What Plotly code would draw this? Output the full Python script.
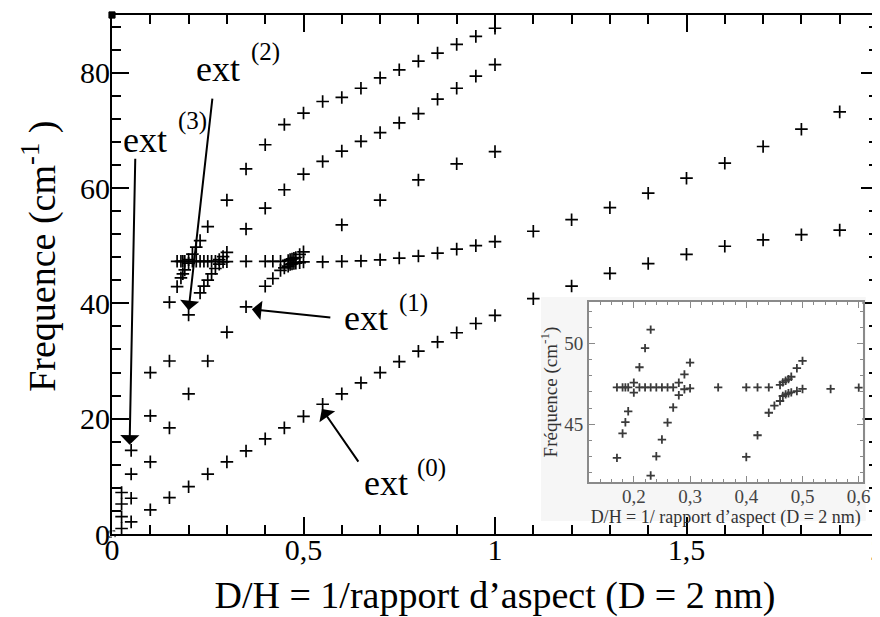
import plotly.graph_objects as go

# ---------------- data ----------------
# branch 0 : lowest mode  (ext(0))
b0_x = [0.025, 0.05, 0.1, 0.15, 0.2, 0.25, 0.3, 0.35, 0.4, 0.45, 0.5, 0.55, 0.6, 0.65,
        0.7, 0.75, 0.8, 0.85, 0.9, 0.95, 1.0, 1.1, 1.2, 1.3, 1.4, 1.5, 1.6, 1.7, 1.8, 1.9]
b0_y = [0.95, 2.1, 4.2, 6.3, 8.2, 10.4, 12.5, 14.4, 16.5, 18.4, 20.4, 22.5, 24.3, 26.2,
        28.0, 29.9, 31.7, 33.3, 34.9, 36.5, 37.9, 40.8, 43.0, 45.2, 46.9, 48.5, 49.9, 51.0, 51.9, 52.7]

# branch 1 : ext(1) mode, anticrossing near 0.45-0.5, then rising
b1_x = [0.025, 0.05, 0.1, 0.15, 0.2, 0.25, 0.3, 0.35, 0.4, 0.42, 0.44, 0.45, 0.46, 0.465,
        0.47, 0.475, 0.48, 0.49, 0.5, 0.55, 0.6, 0.65, 0.7, 0.75, 0.8, 0.85, 0.9, 0.95,
        1.0, 1.1, 1.2, 1.3, 1.4, 1.5, 1.6, 1.7, 1.8, 1.9]
b1_y = [3.0, 6.2, 12.5, 18.4, 24.3, 30.0, 35.0, 39.4, 42.96, 44.31, 45.71, 46.15, 46.44, 46.75,
        46.85, 46.92, 46.98, 47.06, 47.19, 47.19, 47.27, 47.35, 47.55, 47.85, 48.2, 48.7, 49.4, 50.0,
        50.7, 52.5, 54.5, 56.6, 59.1, 61.7, 64.3, 67.2, 70.2, 73.2]

# branch 2 : ext(2) mode
b2_x = [0.025, 0.05, 0.1, 0.15, 0.2, 0.23, 0.24, 0.25, 0.26, 0.27, 0.28, 0.29, 0.3, 0.35,
        0.4, 0.42, 0.44, 0.46, 0.465, 0.47, 0.475, 0.48, 0.49, 0.5, 0.6, 0.7, 0.8, 0.9, 1.0]
b2_y = [5.2, 10.4, 20.5, 30.0, 38.0, 41.8, 43.0, 44.04, 45.1, 46.04, 46.8, 47.17, 47.23, 47.29,
        47.29, 47.29, 47.29, 47.44, 47.6, 47.7, 47.8, 47.95, 48.48, 48.94, 53.6, 57.9, 61.4, 64.2, 66.3]

# branch 3 : ext(3) mode
b3_x = [0.025, 0.05, 0.1, 0.15, 0.17, 0.18, 0.185, 0.19, 0.2, 0.21, 0.22, 0.23, 0.24, 0.25,
        0.26, 0.27, 0.28, 0.29, 0.3, 0.35, 0.4, 0.45, 0.5, 0.55, 0.6, 0.65, 0.7, 0.75, 0.8,
        0.85, 0.9, 0.95, 1.0]
b3_y = [7.2, 14.5, 28.0, 40.2, 42.9, 44.42, 45.12, 45.8, 46.96, 47.29, 47.29, 47.29, 47.29, 47.29,
        47.29, 47.29, 47.58, 48.1, 48.83, 52.9, 56.5, 59.7, 62.4, 64.6, 66.4, 68.1, 69.6, 71.3, 72.9,
        75.4, 77.3, 79.4, 81.4]

# branch 4 : flat mode then upper branch
b4_x = [0.17, 0.18, 0.185, 0.19, 0.2, 0.21, 0.22, 0.23, 0.25, 0.3, 0.35, 0.4, 0.45, 0.5,
        0.55, 0.6, 0.65, 0.7, 0.75, 0.8, 0.85, 0.9, 0.95, 1.0]
b4_y = [47.29, 47.29, 47.29, 47.29, 47.58, 48.54, 49.73, 50.88, 53.3, 57.9, 63.3, 67.5, 71.0, 73.0,
        75.0, 75.7, 77.3, 79.1, 80.5, 82.0, 83.4, 84.9, 86.3, 87.7]

branches = [(b0_x, b0_y), (b1_x, b1_y), (b2_x, b2_y), (b3_x, b3_y), (b4_x, b4_y)]

# tick labels
main_xtick_vals = [0, 0.5, 1, 1.5, 2]
main_xtick_text = ["0", "0,5", "1", "1,5", "2"]
main_ytick_vals = [0, 20, 40, 60, 80]
main_ytick_text = ["0", "20", "40", "60", "80"]
inset_xtick_vals = [0.2, 0.3, 0.4, 0.5, 0.6]
inset_xtick_text = ["0,2", "0,3", "0,4", "0,5", "0,6"]
inset_ytick_vals = [45, 50]
inset_ytick_text = ["45", "50"]

# ---------------- figure ----------------
SERIF = "Liberation Serif"
fig = go.Figure()

for bx, by in branches:
    fig.add_trace(go.Scatter(
        x=bx, y=by, mode="markers", showlegend=False,
        marker=dict(symbol="cross-thin", size=9, color="black",
                    line=dict(width=1.7, color="black")),
        xaxis="x", yaxis="y"))

for bx, by in branches:
    fig.add_trace(go.Scatter(
        x=bx, y=by, mode="markers", showlegend=False,
        marker=dict(symbol="cross-thin", size=6, color="#3a3a3a",
                    line=dict(width=1.8, color="#3a3a3a")),
        xaxis="x2", yaxis="y2"))

main_axis_common = dict(
    showline=True, linecolor="black", linewidth=2, mirror="allticks",
    ticks="inside", ticklen=17, tickwidth=2, tickcolor="black",
    showgrid=False, zeroline=False, automargin=False, ticklabeloverflow="allow",
    tickfont=dict(family=SERIF, size=30, color="black"),
)

# the page adds an 8 px body margin: the figure is sized/offset to compensate
fig.update_layout(
    template="none",
    width=872, height=609,
    margin=dict(l=104, r=2, t=7, b=83),
    paper_bgcolor="white", plot_bgcolor="white",
    font=dict(family=SERIF, color="black"),
    xaxis=dict(
        range=[0, 2], domain=[0, 1], anchor="y",
        tickvals=main_xtick_vals, ticktext=main_xtick_text, ticklabelstandoff=-12,
        minor=dict(dtick=0.1, ticklen=9, tickwidth=1.6, ticks="inside", tickcolor="black"),
        title=dict(text="D/H = 1/rapport d’aspect (D = 2 nm)",
                   font=dict(family=SERIF, size=38, color="black"), standoff=20),
        **main_axis_common),
    yaxis=dict(
        range=[0, 90], domain=[0, 1], anchor="x",
        tickvals=main_ytick_vals, ticktext=main_ytick_text, ticklabelstandoff=-6,
        minor=dict(dtick=4, ticklen=9, tickwidth=1.6, ticks="inside", tickcolor="black"),
        **main_axis_common),
    xaxis2=dict(
        domain=[0.6225, 0.980], anchor="y2", range=[0.12, 0.607],
        showline=True, linecolor="#8a8a8a", linewidth=1.5, mirror="allticks",
        ticks="inside", ticklen=6, tickwidth=1.2, tickcolor="#8a8a8a",
        tickvals=inset_xtick_vals, ticktext=inset_xtick_text, ticklabelstandoff=-4,
        minor=dict(dtick=0.02, ticklen=3, tickwidth=1, ticks="inside", tickcolor="#8a8a8a"),
        showgrid=False, zeroline=False, automargin=False,
        tickfont=dict(family=SERIF, size=19, color="#444"),
        title=dict(text="D/H = 1/ rapport d’aspect (D = 2 nm)",
                   font=dict(family=SERIF, size=18, color="#333"), standoff=0)),
    yaxis2=dict(
        domain=[0.1002, 0.447], anchor="x2", range=[41.4, 52.6],
        showline=True, linecolor="#8a8a8a", linewidth=1.5, mirror="allticks",
        ticks="inside", ticklen=6, tickwidth=1.2, tickcolor="#8a8a8a",
        tickvals=inset_ytick_vals, ticktext=inset_ytick_text,
        minor=dict(dtick=1, ticklen=3, tickwidth=1, ticks="inside", tickcolor="#8a8a8a"),
        showgrid=False, zeroline=False, automargin=False,
        tickfont=dict(family=SERIF, size=19, color="#444"),
        title=dict(text="Fréquence (cm<sup>-1</sup>)",
                   font=dict(family=SERIF, size=19, color="#333"), standoff=2)),
)

# y-axis title of the main plot (placed slightly above the axis middle, as in the original)
fig.add_annotation(text="Frequence (cm<sup>-1</sup> )", textangle=-90,
                   xref="paper", yref="paper", x=-0.094, y=0.536,
                   xanchor="center", yanchor="middle", showarrow=False,
                   font=dict(family=SERIF, size=38, color="black"))

# light background of the inset picture
fig.add_shape(type="rect", xref="paper", yref="paper",
              x0=0.56, x1=0.984, y0=0.025, y1=0.4566,
              fillcolor="#f6f6f6", line=dict(width=0), layer="below")

# small corner markers of the frame
cw, ch = 0.004, 0.006
for cx, cy, filled in [(0, 1, True), (1, 1, True), (1, 0, True), (0, 0, False)]:
    fig.add_shape(type="rect", xref="paper", yref="paper",
                  x0=cx - cw, x1=cx + cw, y0=cy - ch, y1=cy + ch,
                  fillcolor="black" if filled else "rgba(0,0,0,0)",
                  line=dict(width=1, color="black", dash="dot" if not filled else "solid"),
                  layer="above")

# labels  (text, superscript) with positions
labels = [
    ("ext", 0.2147, 80.7, 36), ("(2)", 0.3582, 83.57, 25),
    ("ext", 0.0243, 68.26, 36), ("(3)", 0.1678, 71.65, 25),
    ("ext", 0.6008, 37.39, 36), ("(1)", 0.7443, 40.09, 25),
    ("ext", 0.653, 8.78, 36), ("(0)", 0.7913, 11.48, 25),
]
for txt, lx, ly, fs in labels:
    fig.add_annotation(x=lx, y=ly, xref="x", yref="y", text=txt, showarrow=False,
                       xanchor="left", yanchor="middle",
                       font=dict(family=SERIF, size=fs, color="black"))

# arrows: (head x, head y, tail x, tail y)
arrows = [
    (0.2, 38.8, 0.2625, 75.77),
    (0.046, 15.48, 0.0608, 65.34),
    (0.3652, 38.96, 0.574, 37.51),
    (0.5479, 21.69, 0.646, 12.3),
]
for hx, hy, tx, ty in arrows:
    fig.add_annotation(x=hx, y=hy, ax=tx, ay=ty, xref="x", yref="y", axref="x", ayref="y",
                       text="", showarrow=True, arrowhead=1, arrowsize=1.6, arrowwidth=2,
                       arrowcolor="black", standoff=0, startstandoff=0)

fig.write_html("out.html")
